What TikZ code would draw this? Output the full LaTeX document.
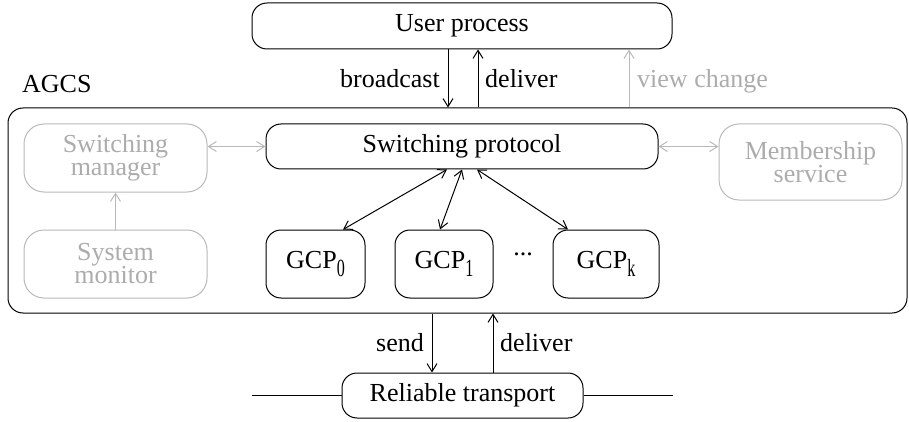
\documentclass[tikz,border=0pt]{standalone}
\usepackage{fontspec}
\usepackage{graphicx}
\setmainfont{Liberation Serif}
\usetikzlibrary{arrows.meta}
\definecolor{faint}{RGB}{185,185,185}
\definecolor{fainttext}{RGB}{172,172,172}
% narrow, dropped index as printed after GCP
\newcommand\gcpindex[1]{\raisebox{-8pt}{\scalebox{0.62}[0.95]{#1}}}
\begin{document}
\begin{tikzpicture}[x=1pt,y=-1pt,
  every node/.style={font=\fontsize{26}{23}\selectfont, inner sep=0pt},
  box/.style={draw, rounded corners=15pt, line width=1pt, align=center},
  faintbox/.style={box, rounded corners=20pt, draw=faint, text=fainttext},
  link/.style={line width=1pt},
  faintlink/.style={link, draw=faint},
  tip/.style={-{Straight Barb[length=8pt,width=10pt]}},
  twotip/.style={{Straight Barb[length=8pt,width=10pt]}-{Straight Barb[length=8pt,width=10pt]}},
  label/.style={font=\fontsize{26}{23}\selectfont},
]
\useasboundingbox (0,0) rectangle (909,422);

% application layer
\node[box, minimum width=420pt, minimum height=46pt] (user) at (462,26) {User process};

% AGCS container and its label
\node[box, minimum width=899pt, minimum height=205pt] (agcs) at (457.5,210.5) {};
\node[label, anchor=base west] (agcsname) at (22,93) {AGCS};

% components inside AGCS
\node[faintbox, minimum width=183pt, minimum height=68pt] (manager) at (115.5,158) {Switching\\manager};
\node[faintbox, minimum width=183pt, minimum height=68pt] (monitor) at (115.5,264) {System\\monitor};
\node[box, minimum width=392pt, minimum height=45pt] (protocol) at (462,146.5) {Switching protocol};
\node[faintbox, minimum width=183pt, minimum height=76pt] (member) at (810.5,162) {Membership\\service};

\node[box, minimum width=99pt, minimum height=68pt] (gcp0) at (315.5,264) {GCP\gcpindex{0}};
\node[box, minimum width=98pt, minimum height=68pt] (gcp1) at (444,264) {GCP\gcpindex{1}};
\node[box, minimum width=106pt, minimum height=68pt] (gcpk) at (606,264) {GCP\gcpindex{k}};
\node[label] (dots) at (523,254) {...};

% transport layer
\node[box, minimum width=241pt, minimum height=45pt] (transport) at (462.5,395.5) {Reliable transport};
\coordinate (wireL) at (252,395.5);
\coordinate (wireR) at (673,395.5);
\draw[link] (wireL) -- (transport.west);
\draw[link] (transport.east) -- (wireR);

% user process <-> AGCS
\draw[link, tip] ([xshift=-14pt]user.south) -- ([xshift=-14pt]user.south |- agcs.north);
\draw[link, tip] ([xshift=16pt]user.south |- agcs.north) -- ([xshift=16pt]user.south);
\draw[faintlink, tip] ([xshift=167pt]user.south |- agcs.north) -- ([xshift=167pt]user.south);
\node[label, anchor=base east] (lbcast) at (440,88) {broadcast};
\node[label, anchor=base west] (ldeliverup) at (485,88) {deliver};
\node[label, anchor=base west, text=fainttext] (lview) at (637,88) {view change};

% switching protocol links
\draw[faintlink, twotip] (manager.east |- protocol.west) -- (protocol.west);
\draw[faintlink, twotip] (protocol.east) -- (member.west |- protocol.east);
\draw[faintlink, tip] (monitor.north) -- (manager.south);
\draw[link, twotip] ([xshift=-15pt]protocol.south) -- ([xshift=27.5pt]gcp0.north);
\draw[link, twotip] (protocol.south) -- ([xshift=-4pt]gcp1.north);
\draw[link, twotip] ([xshift=15pt]protocol.south) -- ([xshift=-38pt]gcpk.north);

% AGCS <-> reliable transport
\draw[link, tip] ([xshift=-30.5pt]transport.north |- agcs.south) -- ([xshift=-30.5pt]transport.north);
\draw[link, tip] ([xshift=30.5pt]transport.north) -- ([xshift=30.5pt]transport.north |- agcs.south);
\node[label, anchor=base east] (lsend) at (424,351) {send};
\node[label, anchor=base west] (ldeliverdown) at (500,351) {deliver};
\end{tikzpicture}
\end{document}
